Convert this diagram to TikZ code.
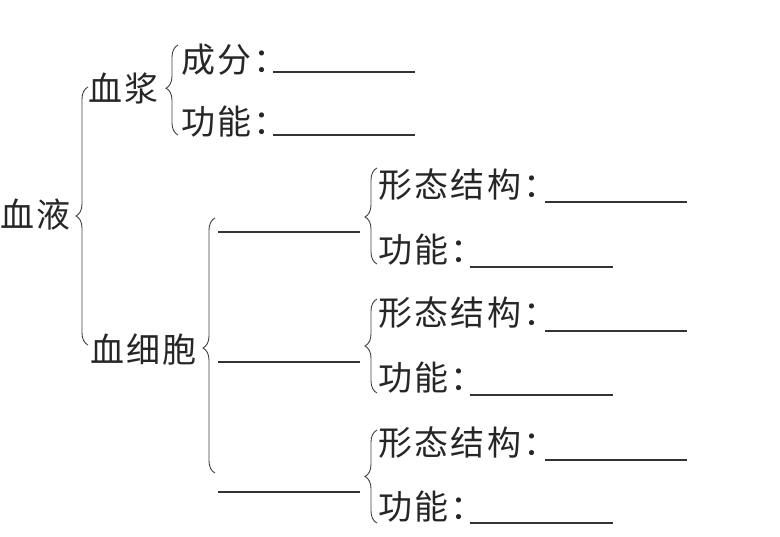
\documentclass[tikz,border=0pt]{standalone}
\usepackage{fontspec}
\newfontfamily\cjk[LetterSpace=7]{Noto Sans CJK SC}
\usetikzlibrary{decorations.pathreplacing}
\begin{document}
\begin{tikzpicture}[x=1pt,y=-1pt,
  txt/.style={font=\cjk\fontsize{34}{40}\selectfont, inner sep=0pt, anchor=west, text=black!85},
  blank/.style={line width=1.1pt, black!80},
  bracestyle/.style={line width=0.9pt, black!75, decorate, decoration={brace, amplitude=12pt, aspect=#1}},
]
\useasboundingbox (0,0) rectangle (780,537);
% texts
\node[txt] (xueye) at (0,215) {血液};
\node[txt] (xuejiang) at (88,88) {血浆};
\node[txt] (chengfen) at (181,60) {成分：};
\node[txt] (gn0) at (181,122) {功能：};
\node[txt] (xxb) at (90,350) {血细胞};
\foreach \i/\a/\b in {1/185/250, 2/313/378, 3/443/507}{
  \node[txt] (xt\i) at (378,\a) {形态结构：};
  \node[txt] (gn\i) at (378,\b) {功能：};
}
% coordinates for braces
\coordinate (b1s) at (88,345); \coordinate (b1e) at (88,87);
\coordinate (b2s) at (178,135); \coordinate (b2e) at (178,45);
\coordinate (b3s) at (215,473); \coordinate (b3e) at (215,218);
\coordinate (c1s) at (377,264); \coordinate (c1e) at (377,168);
\coordinate (c2s) at (377,393); \coordinate (c2e) at (377,299);
\coordinate (c3s) at (377,523); \coordinate (c3e) at (377,430);
\draw[bracestyle=0.5] (b1s) -- (b1e);
\draw[bracestyle=0.52] (b2s) -- (b2e);
\draw[bracestyle=0.49] (b3s) -- (b3e);
\draw[bracestyle=0.49] (c1s) -- (c1e);
\draw[bracestyle=0.5] (c2s) -- (c2e);
\draw[bracestyle=0.5] (c3s) -- (c3e);
% blank lines
\coordinate (l0a) at (273,72); \coordinate (l0b) at (415,72);
\coordinate (m0a) at (273,135); \coordinate (m0b) at (415,135);
\draw[blank] (l0a) -- (l0b);
\draw[blank] (m0a) -- (m0b);
\foreach \i/\y in {1/232, 2/362, 3/492}{
  \coordinate (k\i a) at (218,\y); \coordinate (k\i b) at (360,\y);
  \draw[blank] (k\i a) -- (k\i b);
}
\foreach \i/\a/\b in {1/202/267, 2/331/395, 3/460/523}{
  \coordinate (s\i a) at (545,\a); \coordinate (s\i b) at (687,\a);
  \coordinate (f\i a) at (470,\b); \coordinate (f\i b) at (613,\b);
  \draw[blank] (s\i a) -- (s\i b);
  \draw[blank] (f\i a) -- (f\i b);
}
\end{tikzpicture}
\end{document}
